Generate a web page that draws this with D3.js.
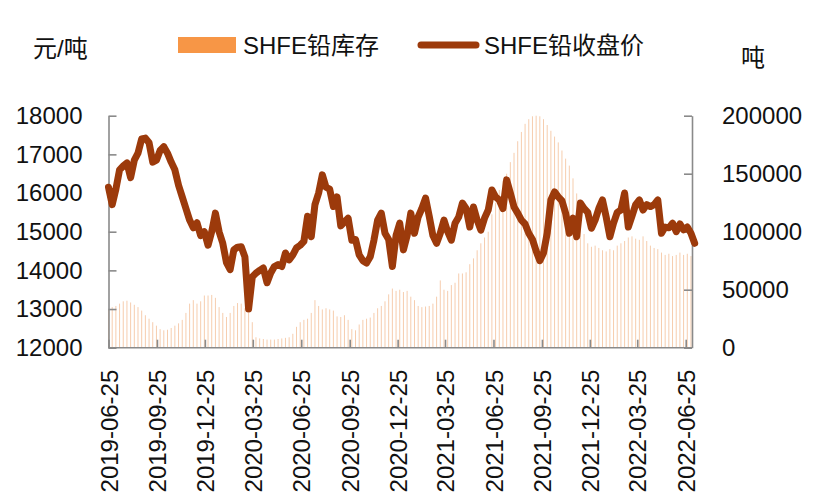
<!DOCTYPE html>
<html><head><meta charset="utf-8">
<script src="https://cdn.jsdelivr.net/npm/d3@7"></script>
<style>
body{margin:0;background:#fff}
text{font-family:"Liberation Sans","Noto Sans CJK SC",sans-serif;fill:#111}
</style>
</head><body><svg id="c" width="826" height="504"></svg>
<script>
// ---- data (weekly, starting 2019-06-25) ----
const startDate = "2019-06-25";
const tickLabels = ["2019-06-25","2019-09-25","2019-12-25","2020-03-25","2020-06-25","2020-09-25","2020-12-25","2021-03-25","2021-06-25","2021-09-25","2021-12-25","2022-03-25","2022-06-25"];
const leftTicks = [12000,13000,14000,15000,16000,17000,18000];
const rightTicks = [0,50000,100000,150000,200000];
const seriesNames = ["SHFE铅库存","SHFE铅收盘价"];
// SHFE lead closing price, yuan/ton
const priceValues = [
16150,15700,16100,16600,16700,16780,16400,16850,17030,17400,
17420,17300,16800,16850,17100,17200,17030,16800,16600,16200,
15900,15600,15300,15100,15230,14900,15000,14650,15000,15480,
15000,14700,14200,14020,14530,14600,14610,14350,13000,13830,
13930,14000,14060,13680,13930,14100,14150,14100,14450,14270,
14400,14580,14650,14750,15400,14870,15700,16000,16470,16150,
16100,15650,15900,15150,15250,15350,14780,14800,14400,14250,
14190,14350,14780,15300,15480,14960,14800,14100,14900,15220,
14530,14900,15480,14960,15380,15600,15870,15400,14900,14700,
14960,15300,15000,14780,15220,15380,15740,15600,15120,15640,
15300,15040,15350,15560,16080,15900,15820,15600,16340,16000,
15640,15480,15300,15200,14960,14800,14500,14250,14450,14960,
15820,16030,15900,15800,15480,14960,15350,14870,15740,15600,
15500,15090,15300,15600,15820,15380,14870,15220,15500,15560,
16000,15120,15400,15700,15820,15560,15700,15650,15700,15820,
14960,15120,15100,15220,15000,15200,15050,15120,14960,14700];
// SHFE lead inventory, tons
const inventoryValues = [
33000,35000,36000,38000,40000,40500,39000,37000,35000,32000,
28000,25000,22000,19000,16000,15000,15500,17000,19000,21000,
24000,30000,38000,41000,38000,40000,45000,45000,45500,43000,
35000,30000,26500,30000,36000,38500,38000,34000,30000,22000,
9000,8000,7500,7000,7000,7000,7500,8000,8500,9000,
12000,18000,22000,24000,25000,30000,41000,36000,33000,34000,
33000,32000,27000,26500,28000,24000,16000,15000,20000,24000,
25000,26000,30000,34000,36000,40000,46000,51000,49000,50000,
48000,49000,44000,41000,36000,35000,35500,36000,38000,44000,
58000,50000,49000,54000,56000,64000,64000,65000,72000,77000,
84000,90000,95000,100000,115000,125000,136000,144000,150000,160000,
168000,178000,186000,193000,197000,199500,200000,199500,197000,192000,
187000,182000,177000,170000,163000,157000,146000,133000,110000,98000,
90000,87000,88000,86000,84000,83000,85000,84000,88000,90000,
92000,95000,96000,94000,93000,96000,92000,88000,86000,85000,
82000,80000,81000,79000,80000,82000,80000,81000,79000];

// ---- scales ----
const parse = d3.timeParse("%Y-%m-%d");
const t0 = parse(startDate);
const weekDate = i => d3.timeDay.offset(t0, 7 * i);
const plotL = 108.5, plotR = 692, plotT = 115.7, plotB = 347.7;
const x = d3.scaleTime().domain([parse(tickLabels[0]), parse(tickLabels[tickLabels.length-1])]).range([plotL, 685.7]);
const yL = d3.scaleLinear().domain([12000, 18000]).range([plotB, plotT]);
const yR = d3.scaleLinear().domain([0, 200000]).range([plotB, plotT]);

const svg = d3.select("#c");
const axisColor = "#8a8a8a";

// bars
svg.append("g").selectAll("rect").data(inventoryValues).join("rect")
  .attr("x", (d, i) => x(weekDate(i)) - 0.5)
  .attr("width", 1)
  .attr("y", d => yR(d))
  .attr("height", d => plotB - yR(d))
  .attr("fill", "#F6CDAE");

// axes
function styleAxis(g) {
  g.selectAll(".domain").attr("stroke", axisColor).attr("stroke-width", 1.6);
  g.selectAll(".tick line").attr("stroke", axisColor).attr("stroke-width", 1.6);
  g.selectAll("text").attr("font-size", 24).attr("fill", "#111")
    .style("font-family", '"Liberation Sans","Noto Sans CJK SC",sans-serif');
}
svg.append("g").attr("transform", `translate(${plotL},0)`)
  .call(d3.axisLeft(yL).tickValues(leftTicks).tickFormat(d3.format("d")).tickSize(-8).tickSizeOuter(0).tickPadding(26))
  .call(styleAxis);
svg.append("g").attr("transform", `translate(${plotR},0)`)
  .call(d3.axisRight(yR).tickValues(rightTicks).tickFormat(d3.format("d")).tickSize(-8).tickSizeOuter(0).tickPadding(30))
  .call(styleAxis);
const xAxisG = svg.append("g").attr("transform", `translate(0,${plotB})`)
  .call(d3.axisBottom(x).tickValues(tickLabels.map(parse)).tickFormat(d3.timeFormat("%Y-%m-%d")).tickSize(-8).tickSizeOuter(0))
  .call(styleAxis);
xAxisG.select(".domain").attr("d", `M${plotL},0H${plotR}`);
xAxisG.selectAll(".tick text")
  .attr("text-anchor", "end")
  .attr("transform", "translate(0,22) rotate(-90)")
  .attr("x", 0).attr("y", 0).attr("dy", "0.36em");

// line
const line = d3.line().x((d, i) => x(weekDate(i))).y(d => yL(d));
svg.append("path").datum(priceValues).attr("d", line)
  .attr("fill", "none").attr("stroke", "#9C3A0B").attr("stroke-width", 7)
  .attr("stroke-linejoin", "round").attr("stroke-linecap", "round");

// titles & legend
svg.append("text").attr("x", 33).attr("y", 57).attr("font-size", 24).text("元/吨");
svg.append("text").attr("x", 741).attr("y", 66).attr("font-size", 24).text("吨");
svg.append("rect").attr("x", 178).attr("y", 37).attr("width", 58).attr("height", 16).attr("fill", "#F79646");
svg.append("text").attr("x", 243).attr("y", 54).attr("font-size", 24).text(seriesNames[0]);
svg.append("line").attr("x1", 421).attr("x2", 476).attr("y1", 45).attr("y2", 45)
  .attr("stroke", "#9C3A0B").attr("stroke-width", 7).attr("stroke-linecap", "round");
svg.append("text").attr("x", 484).attr("y", 54).attr("font-size", 24).text(seriesNames[1]);
</script>
</body></html>
